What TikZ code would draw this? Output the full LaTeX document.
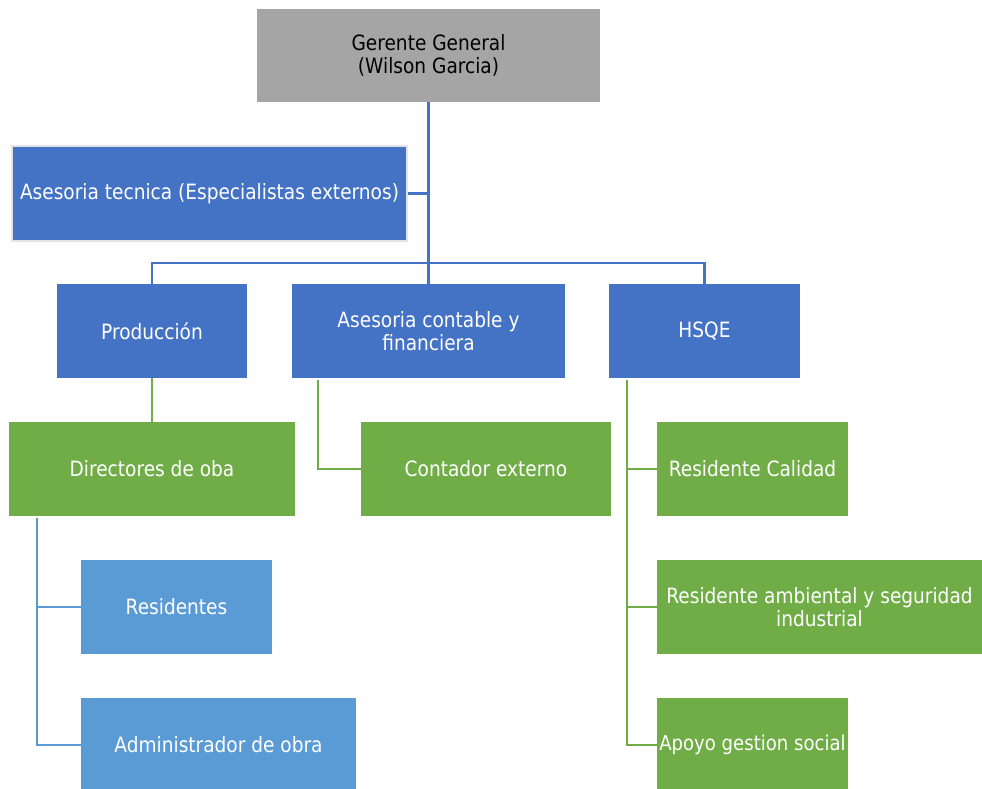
\documentclass[tikz,border=0pt]{standalone}
\usepackage{fontspec}
\setmainfont{DejaVu Sans}[FakeStretch=0.88]
\definecolor{grisjefe}{HTML}{A5A5A5}
\definecolor{azul}{HTML}{4472C4}
\definecolor{azulclaro}{HTML}{5B9BD5}
\definecolor{verde}{HTML}{70AD47}
\definecolor{bordegris}{HTML}{E4E4E4}

\begin{document}
\begin{tikzpicture}[x=0.02cm, y=-0.02cm,
    caja/.style={rectangle, inner sep=2pt, align=center, text=white,
      font=\fontsize{12}{13.2}\selectfont, minimum height=1.88cm},
    cajaazul/.style={caja, fill=azul},
    cajaclara/.style={caja, fill=azulclaro},
    cajaverde/.style={caja, fill=verde},
    linea/.style={line width=1.5pt}]
    \useasboundingbox (0,0) rectangle (982,788);
    % nivel superior
    \node[caja, fill=grisjefe, text=black, minimum width=6.86cm, minimum height=1.86cm] (gerente) at (428.5,55.5) {Gerente General\\(Wilson Garcia)};
    \node[cajaazul, draw=bordegris, line width=0.8pt, minimum width=7.9cm, minimum height=1.9cm] (tecnica) at (209.5,193.5) {Asesoria tecnica (Especialistas externos)};
    % areas
    \node[cajaazul, minimum width=3.8cm] (produccion) at (152,331) {Producción};
    \node[cajaazul, minimum width=5.46cm] (contable) at (428.5,331) {Asesoria contable y\\financiera};
    \node[cajaazul, minimum width=3.82cm] (hsqe) at (704.5,331) {HSQE};
    % cargos
    \node[cajaverde, minimum width=5.72cm] (directores) at (152,469) {Directores de oba};
    \node[cajaverde, minimum width=5cm] (contador) at (486,469) {Contador externo};
    \node[cajaverde, minimum width=3.82cm] (calidad) at (752.5,469) {Residente Calidad};
    \node[cajaverde, minimum width=6.5cm] (ambiental) at (819.5,607) {Residente ambiental y seguridad\\industrial};
    \node[cajaverde, inner xsep=0pt, font=\fontsize{11.7}{13.2}\selectfont, minimum width=3.82cm] (apoyo) at (752.5,745) {Apoyo gestion social};
    \node[cajaclara, minimum width=3.82cm] (residentes) at (176.5,607) {Residentes};
    \node[cajaclara, minimum width=5.5cm] (administrador) at (218.5,745) {Administrador de obra};
    % conectores
    \coordinate (barra) at (428.5,263);
    \coordinate (bajacontable) at (318,380);
    \coordinate (bajahsqe) at (627,380);
    \coordinate (bajadirectores) at (37,518);
    \draw[linea, azul] (gerente.south) -- (contable.north);
    \draw[linea, azul] (tecnica.east) -- (tecnica.east -| gerente.south);
    \draw[linea, azul] (produccion.north) |- (barra) -| (hsqe.north);
    \draw[linea, verde] (produccion.south) -- (directores.north);
    \draw[linea, verde] (bajacontable) |- (contador.west);
    \draw[linea, verde] (bajahsqe) |- (calidad.west);
    \draw[linea, verde] (bajahsqe) |- (ambiental.west);
    \draw[linea, verde] (bajahsqe) |- (apoyo.west);
    \draw[linea, azulclaro] (bajadirectores) |- (residentes.west);
    \draw[linea, azulclaro] (bajadirectores) |- (administrador.west);
\end{tikzpicture}
\end{document}
